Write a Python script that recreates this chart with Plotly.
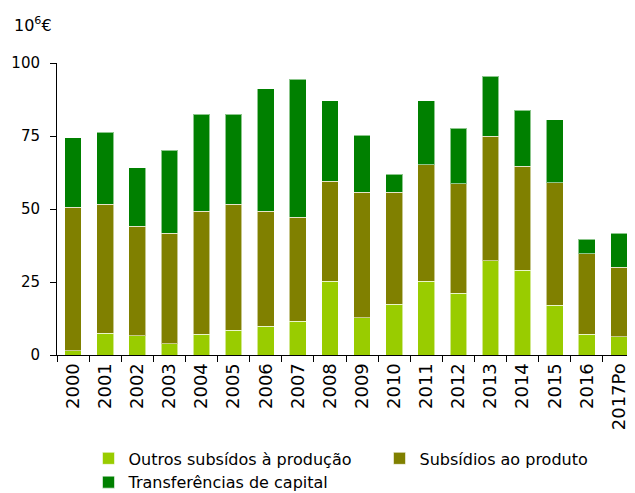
import plotly.graph_objects as go

years = ["2000", "2001", "2002", "2003", "2004", "2005", "2006", "2007", "2008",
         "2009", "2010", "2011", "2012", "2013", "2014", "2015", "2016", "2017Po"]
outros = [1.4, 7.5, 6.6, 3.8, 7.1, 8.5, 9.9, 11.6, 25.3, 12.8, 17.4, 25.3, 21.1, 32.3, 29.1, 17.0, 7.1, 6.2]
subsidios = [49.2, 44.1, 37.5, 37.9, 42.1, 43.1, 39.3, 35.6, 34.2, 42.9, 38.3, 39.8, 37.5, 42.6, 35.6, 42.0, 27.6, 23.8]
transferencias = [23.8, 24.7, 20.0, 28.4, 33.2, 30.8, 42.0, 47.2, 27.5, 19.6, 6.2, 21.9, 19.0, 20.5, 19.1, 21.5, 5.0, 11.7]

names = ["Outros subsídos à produção", "Subsídios ao produto", "Transferências de capital"]
colors = ["#99cc00", "#808000", "#008000"]

FONT = "DejaVu Sans"

fig = go.Figure()
for vals, name, col in zip([outros, subsidios, transferencias], names, colors):
    fig.add_trace(go.Bar(
        x=years, y=vals, name=name,
        marker=dict(color=col, line=dict(color="rgba(255,255,255,0.55)", width=1)),
    ))

# page body has an 8px margin: figure is sized/positioned to compensate
W, H = 627, 485
ML, MT, PH = 49, 55, 292

fig.update_layout(
    barmode="stack",
    bargap=0.48,
    width=W, height=H,
    margin=dict(l=ML, r=0, t=MT, b=H - MT - PH, autoexpand=False),
    plot_bgcolor="white", paper_bgcolor="white",
    font=dict(family=FONT, size=16, color="black"),
    showlegend=True,
    legend=dict(
        orientation="h",
        x=0.0545, xanchor="left",
        y=-0.296, yanchor="top",
        entrywidth=246, entrywidthmode="pixels",
        itemwidth=30,
        traceorder="normal",
        font=dict(family=FONT, size=16),
        tracegroupgap=0,
    ),
    xaxis=dict(
        type="category",
        tickangle=-90,
        automargin=False,
        showline=True, linecolor="black", linewidth=1,
        ticks="outside", ticklen=6, tickcolor="black",
        tickson="boundaries",
        showgrid=False,
        tickfont=dict(family=FONT, size=18),
    ),
    yaxis=dict(
        range=[0, 100],
        tickvals=[0, 25, 50, 75, 100],
        automargin=False,
        showline=True, linecolor="black", linewidth=1,
        ticks="outside", ticklen=6, tickcolor="black",
        ticklabelstandoff=7,
        showgrid=False, zeroline=False,
        tickfont=dict(family=FONT, size=15),
    ),
    annotations=[dict(
        text="10<sup>6</sup>€", xref="paper", yref="paper",
        x=-45 / 578, y=1 + 39 / PH, xanchor="left", yanchor="middle",
        showarrow=False, font=dict(family=FONT, size=16),
    )],
)

fig.write_html("out.html")
